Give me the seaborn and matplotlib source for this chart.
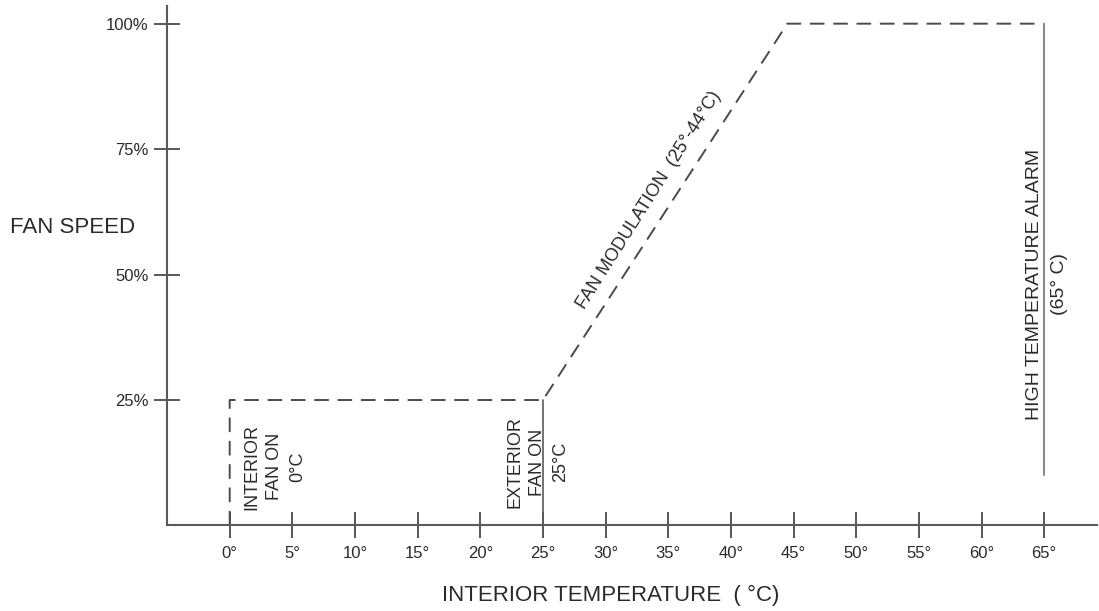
import numpy as np
import pandas as pd
import matplotlib
matplotlib.use("Agg")
import matplotlib.pyplot as plt
import seaborn as sns

# fan speed profile (dashed)
profile_temp = [0, 0, 25, 44.5, 65]
profile_speed = [0, 25, 25, 100, 100]
# exterior fan on marker (solid)
exterior_temp = [25, 25]
exterior_speed = [0, 25]
# high temperature alarm marker (solid)
alarm_temp = [65, 65]
alarm_speed = [100, 10]

x_ticks = list(range(0, 70, 5))
x_labels = [f"{t}°" for t in x_ticks]
y_ticks = [25, 50, 75, 100]
y_labels = ["25%", "50%", "75%", "100%"]

sns.set_style("ticks")
plt.rcParams["font.family"] = ["Liberation Sans", "DejaVu Sans"]

line_col = "#4a4a4a"
text_col = "#2a2a2a"

fig = plt.figure(figsize=(10.99, 6.11), dpi=100)
ax = fig.add_axes([0.152, 0.140, 0.846, 0.850])

profile = pd.DataFrame({"temp": profile_temp, "speed": profile_speed})
sns.lineplot(data=profile, x="temp", y="speed", sort=False, estimator=None,
             ax=ax, color=line_col, linewidth=1.4, linestyle=(0, (7.5, 4.5)))
sns.lineplot(x=exterior_temp, y=exterior_speed, sort=False, estimator=None,
             ax=ax, color="#5a5a5a", linewidth=1.2)
sns.lineplot(x=alarm_temp, y=alarm_speed, sort=False, estimator=None,
             ax=ax, color="#8a8a8a", linewidth=1.5)

ax.set_xlim(-5, 69.2)
ax.set_ylim(0, 103.5)
ax.set_xticks(x_ticks)
ax.set_xticklabels(x_labels)
ax.set_yticks(y_ticks)
ax.set_yticklabels(y_labels)
ax.tick_params(direction="inout", length=19, width=1.3, color=line_col,
               labelcolor=text_col, labelsize=12, bottom=True, left=True)
ax.tick_params(axis="x", pad=5)
ax.tick_params(axis="y", pad=4)

sns.despine(ax=ax)
for side in ["left", "bottom"]:
    ax.spines[side].set_color("#5a5a5a")
    ax.spines[side].set_linewidth(1.5)

ax.set_xlabel("INTERIOR TEMPERATURE  ( °C)", fontsize=16, color=text_col)
ax.xaxis.set_label_coords(0.477, -0.134)
ax.xaxis.label.set_va("center")
ax.set_ylabel("FAN SPEED", fontsize=16, color=text_col, rotation=0,
              ha="center", va="center")
ax.yaxis.set_label_coords(-0.102, 0.573)

ax.text(3.6, 11.7, "INTERIOR\nFAN ON\n0°C", rotation=90, ha="center",
        va="center", multialignment="center", fontsize=13, color=text_col,
        linespacing=1.45)
ax.text(24.6, 12.6, "EXTERIOR\nFAN ON\n25°C", rotation=90, ha="center",
        va="center", multialignment="center", fontsize=13, color=text_col,
        linespacing=1.45)
ax.text(65.2, 48.1, "HIGH TEMPERATURE ALARM\n(65° C)", rotation=90,
        ha="center", va="center", multialignment="center", fontsize=14,
        color=text_col, linespacing=1.6)
ax.text(33.5, 64.8, "FAN MODULATION  (25°-44°C)", rotation=57.6,
        ha="center", va="center", fontsize=13, color=text_col,
        rotation_mode="anchor")

fig.savefig("out.png", dpi=100, facecolor="white")
